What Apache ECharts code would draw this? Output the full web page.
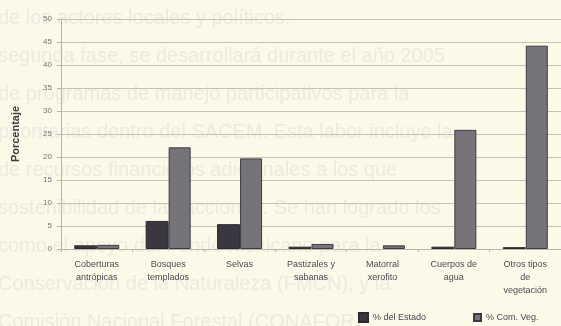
<!DOCTYPE html>
<html>
<head>
<meta charset="utf-8">
<script src="https://cdn.jsdelivr.net/npm/echarts@6/dist/echarts.min.js"></script>
<style>
  html, body { margin: 0; padding: 0; background: #fbf9e7; }
  #chart { width: 561px; height: 326px; }
</style>
</head>
<body>
<div id="chart"></div>
<script>
// Cobertura del suelo: porcentaje del estado y de la comunidad vegetal
const categories = [
  'Coberturas\nantrópicas',
  'Bosques\ntemplados',
  'Selvas',
  'Pastizales y\nsabanas',
  'Matorral\nxerofito',
  'Cuerpos de\nagua',
  'Otros tipos\nde\nvegetación'
];
const pctEstado = [0.8, 6.1, 5.4, 0.5, 0, 0.5, 0.4];
const pctComVeg = [0.9, 22.1, 19.7, 1.1, 0.8, 25.9, 44.2];
const yTicks = { min: 0, max: 50, step: 5 };
const seriesNames = ['% del Estado', '% Com. Veg.'];

// Texto del reverso de la hoja que se transparenta en el fondo
const backText = [
  'de los actores locales y políticos.',
  'segunda fase, se desarrollará durante el año 2005',
  'de programas de manejo participativos para la',
  'prioritarias dentro del SACEM. Esta labor incluye la',
  'de recursos financieros adicionales a los que',
  'sostenibilidad de las acciones. Se han logrado los',
  'como el apoyo del Fondo Mexicano para la',
  'Conservación de la Naturaleza (FMCN), y la',
  'Comisión Nacional Forestal (CONAFOR).'
];

const chart = echarts.init(document.getElementById('chart'), null, { renderer: 'canvas' });

const bgGraphics = backText.map((line, i) => ({
  type: 'text',
  left: -2,
  top: 8 + i * 38,
  z: -10,
  silent: true,
  style: {
    text: line,
    fill: 'rgba(165, 155, 180, 0.16)',
    font: '20px "Liberation Sans", Arial, sans-serif'
  }
}));

// Un valor cero no se dibuja como barra
const asBar = v => (v === 0 ? null : v);

const legendText = { fontSize: 9, color: '#4a4650', fontFamily: 'Liberation Sans' };

chart.setOption({
  backgroundColor: '#fbf9e7',
  animation: false,
  graphic: bgGraphics,
  grid: { left: 61, top: 19, width: 502, height: 230, containLabel: false },
  legend: [
    {
      data: [seriesNames[0]],
      left: 358, top: 312, padding: 0,
      itemWidth: 9, itemHeight: 9, itemGap: 0,
      icon: 'rect',
      textStyle: legendText
    },
    {
      data: [seriesNames[1]],
      left: 473, top: 313, padding: 0,
      itemWidth: 7, itemHeight: 7, itemGap: 0,
      icon: 'rect',
      textStyle: legendText
    }
  ],
  xAxis: {
    type: 'category',
    data: categories,
    boundaryGap: true,
    axisLine: { lineStyle: { color: '#b9b6a8', width: 1 } },
    axisTick: { show: true, length: 3, lineStyle: { color: '#b9b6a8' } },
    axisLabel: {
      interval: 0,
      fontSize: 9,
      lineHeight: 13,
      margin: 9,
      color: '#4e4a54',
      fontFamily: 'Liberation Sans'
    }
  },
  yAxis: {
    type: 'value',
    min: yTicks.min,
    max: yTicks.max,
    interval: yTicks.step,
    name: 'Porcentaje',
    nameLocation: 'middle',
    nameRotate: 90,
    nameGap: 40,
    nameTextStyle: { fontSize: 11, fontWeight: 'bold', color: '#3e3a44', fontFamily: 'Liberation Sans' },
    axisLine: { show: true, lineStyle: { color: '#b9b6a8' } },
    axisTick: { show: true, length: 4, lineStyle: { color: '#b9b6a8' } },
    axisLabel: { fontSize: 8, margin: 9, color: '#77737a', fontFamily: 'Liberation Sans' },
    splitLine: { show: true, lineStyle: { color: '#c6c3b4', width: 1 } }
  },
  series: [
    {
      name: seriesNames[0],
      type: 'bar',
      data: pctEstado.map(asBar),
      barWidth: 23,
      barGap: '0%',
      itemStyle: { color: '#3b3740', borderColor: '#2c2930', borderWidth: 1 }
    },
    {
      name: seriesNames[1],
      type: 'bar',
      data: pctComVeg.map(asBar),
      barWidth: 22,
      itemStyle: { color: '#77737b', borderColor: '#3f3b44', borderWidth: 1 }
    }
  ]
});
</script>
</body>
</html>
